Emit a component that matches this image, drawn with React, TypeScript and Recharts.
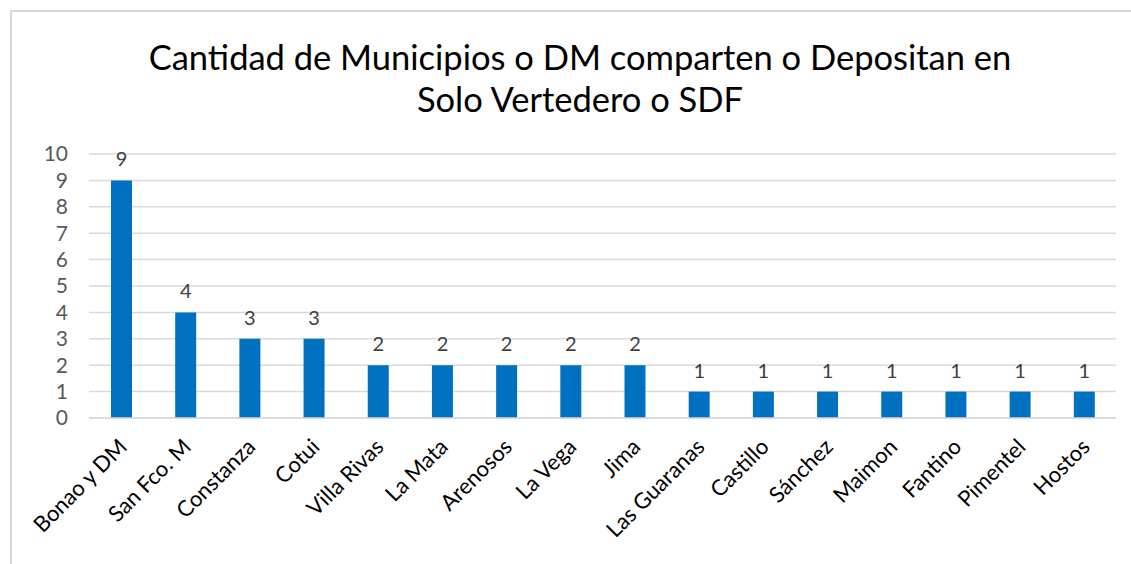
import { BarChart, Bar, XAxis, YAxis, CartesianGrid, LabelList } from "recharts";

const categories = [
  "Bonao y DM", "San Fco. M", "Constanza", "Cotui", "Villa Rivas", "La  Mata", "Arenosos", "La Vega",
  "Jima", "Las Guaranas", "Castillo", "Sánchez", "Maimon", "Fantino", "Pimentel", "Hostos",
];
const counts = [9, 4, 3, 3, 2, 2, 2, 2, 2, 1, 1, 1, 1, 1, 1, 1];
const yTicks = [0, 1, 2, 3, 4, 5, 6, 7, 8, 9, 10];

const data = categories.map((name, i) => ({ name, value: counts[i] }));

const FONT = "Lato, 'Open Sans', sans-serif";

function XTick({ x, y, payload }: any) {
  return (
    <g transform={`translate(${x + 3},${y + 18})`}>
      <text transform="rotate(-45)" textAnchor="end" dy={6} fill="#000" fontSize={22} fontFamily={FONT}>
        {payload.value}
      </text>
    </g>
  );
}

export default function App() {
  return (
    <div style={{ position: "absolute", left: 0, top: 0, width: 1131, height: 564, background: "#fff" }}>
      <div style={{ position: "absolute", left: 10, top: 10, width: 1121, height: 554, borderLeft: "2px solid #d9d9d9", borderTop: "2px solid #d9d9d9" }} />
      <div style={{ position: "absolute", left: 30, width: 1100, top: 36, textAlign: "center", fontFamily: FONT, fontSize: 34.5, lineHeight: "42px", color: "#000" }}>
        Cantidad de Municipios o DM comparten o Depositan en<br />Solo Vertedero o SDF
      </div>
      <div style={{ position: "absolute", left: 0, top: 0 }}>
        <BarChart width={1131} height={564} data={data} margin={{ top: 154, right: 15, left: 0, bottom: 0 }} barCategoryGap={0}>
          <CartesianGrid vertical={false} stroke="#d9d9d9" strokeWidth={1.5} />
          <XAxis dataKey="name" interval={0} tick={<XTick />} tickLine={false} axisLine={{ stroke: "#d9d9d9", strokeWidth: 1.5 }} height={146} />
          <YAxis
            width={89}
            domain={[0, 10]}
            ticks={yTicks}
            interval={0}
            tickLine={false}
            axisLine={false}
            tickSize={0}
            tickMargin={21}
            tick={{ fill: "#595959", fontSize: 21, fontFamily: FONT }}
          />
          <Bar dataKey="value" fill="#0070C0" barSize={21} isAnimationActive={false}>
            <LabelList dataKey="value" position="top" offset={14} fill="#404040" fontSize={20} fontFamily={FONT} />
          </Bar>
        </BarChart>
      </div>
    </div>
  );
}
